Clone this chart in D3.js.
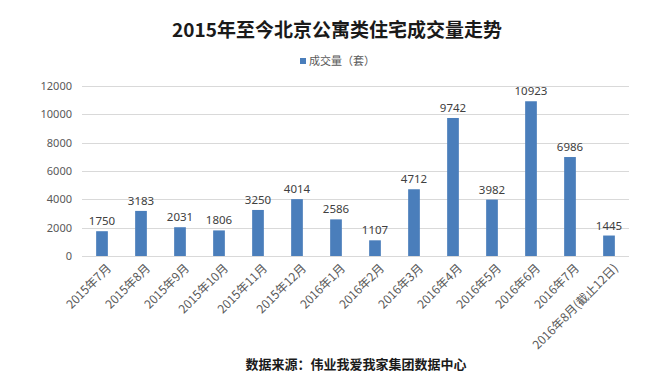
<!DOCTYPE html>
<html>
<head>
<meta charset="utf-8">
<script src="https://cdn.jsdelivr.net/npm/d3@7"></script>
<style>
  body { margin: 0; background: #fff; }
  text { font-family: "Noto Sans CJK SC", "Noto Sans", sans-serif; }
</style>
</head>
<body>
<svg id="chart" width="654" height="387"></svg>
<script>
// data
const months = ['2015年7月', '2015年8月', '2015年9月', '2015年10月', '2015年11月', '2015年12月',
  '2016年1月', '2016年2月', '2016年3月', '2016年4月', '2016年5月', '2016年6月', '2016年7月',
  '2016年8月(截止12日)'];
const volumes = [1750, 3183, 2031, 1806, 3250, 4014, 2586, 1107, 4712, 9742, 3982, 10923, 6986, 1445];
const y_ticks = [0, 2000, 4000, 6000, 8000, 10000, 12000];

const svg = d3.select('#chart');
const bar_color = '#4a7ebb';

// scales
const x = d3.scaleBand().domain(months).range([82.5, 628.5]).paddingInner(0.7).paddingOuter(0.35);
const y = d3.scaleLinear().domain([0, 12000]).range([256, 86]);

// title
svg.append('text')
  .attr('x', 337).attr('y', 37)
  .attr('text-anchor', 'middle')
  .attr('font-size', 19).attr('font-weight', 'bold').attr('fill', '#1a1a1a')
  .text('2015年至今北京公寓类住宅成交量走势');

// legend
const legend = svg.append('g').attr('transform', 'translate(300,58)');
legend.append('rect').attr('width', 6).attr('height', 6).attr('fill', bar_color);
legend.append('text')
  .attr('x', 9).attr('y', 7)
  .attr('font-size', 11).attr('fill', '#595959')
  .text('成交量（套）');

// gridlines
svg.append('g')
  .selectAll('line')
  .data(y_ticks)
  .join('line')
  .attr('x1', 82).attr('x2', 629)
  .attr('y1', d => Math.round(y(d)) + 0.5).attr('y2', d => Math.round(y(d)) + 0.5)
  .attr('stroke', '#d9d9d9');

// y axis labels
const y_axis = svg.append('g')
  .attr('transform', 'translate(76,0)')
  .call(d3.axisLeft(y).tickValues(y_ticks).tickFormat(d3.format('d')).tickSize(0).tickPadding(4));
y_axis.select('.domain').remove();
y_axis.selectAll('text')
  .attr('font-size', 11).attr('fill', '#595959')
  .style('font-family', '"Noto Sans", sans-serif');

// bars
svg.append('g')
  .selectAll('rect')
  .data(volumes)
  .join('rect')
  .attr('x', (d, i) => x(months[i]))
  .attr('width', x.bandwidth())
  .attr('y', d => y(d))
  .attr('height', d => y(0) - y(d))
  .attr('fill', bar_color);

// value labels
svg.append('g')
  .selectAll('text')
  .data(volumes)
  .join('text')
  .attr('x', (d, i) => x(months[i]) + x.bandwidth() / 2)
  .attr('y', d => y(d) - 6)
  .attr('text-anchor', 'middle')
  .attr('font-size', 11.5).attr('fill', '#404040')
  .style('font-family', '"Noto Sans", sans-serif')
  .text(d => d);

// x labels, rotated
svg.append('g')
  .selectAll('text')
  .data(months)
  .join('text')
  .attr('transform', d => `translate(${x(d) + x.bandwidth() / 2 + 4},263) rotate(-45)`)
  .attr('text-anchor', 'end')
  .attr('dy', '0.7em')
  .attr('font-size', 12).attr('fill', '#595959')
  .text(d => d);

// source note
svg.append('text')
  .attr('x', 356).attr('y', 369)
  .attr('text-anchor', 'middle')
  .attr('font-size', 13).attr('font-weight', 'bold').attr('fill', '#1a1a1a')
  .text('数据来源：伟业我爱我家集团数据中心');
</script>
</body>
</html>
